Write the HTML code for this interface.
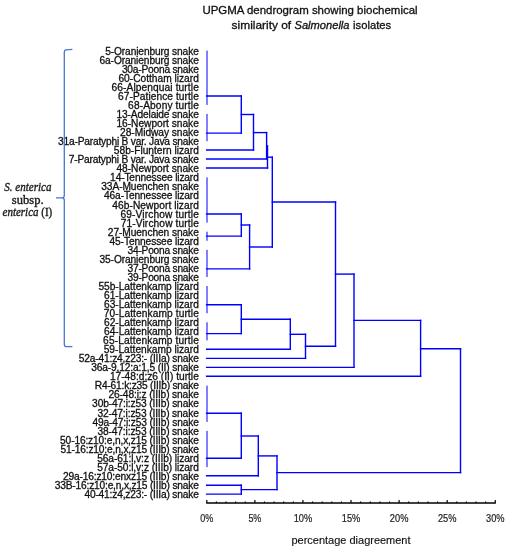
<!DOCTYPE html>
<html><head><meta charset="utf-8"><style>
html,body{margin:0;padding:0;background:#fff;}
svg{display:block;will-change:transform;}
text{font-family:"Liberation Sans",sans-serif;}
.serif text{font-family:"Liberation Serif",serif;}
</style></head><body>
<svg width="509" height="550" viewBox="0 0 509 550">
<defs><filter id="b" x="-5%" y="-5%" width="110%" height="110%"><feGaussianBlur stdDeviation="0.3"/></filter></defs>
<rect width="509" height="550" fill="#fff"/>
<g filter="url(#b)">

<text x="202.4" y="14" font-size="11" textLength="215.2" stroke="#111" stroke-width="0.3" lengthAdjust="spacingAndGlyphs" fill="#111">UPGMA dendrogram showing biochemical</text>
<text x="231.6" y="29" font-size="11" textLength="59.6" lengthAdjust="spacingAndGlyphs" fill="#111" stroke="#111" stroke-width="0.3">similarity of</text>
<text x="294.5" y="29" font-size="11" font-style="italic" textLength="55" lengthAdjust="spacingAndGlyphs" fill="#111" stroke="#111" stroke-width="0.3">Salmonella</text>
<text x="353.1" y="29" font-size="11" textLength="38" lengthAdjust="spacingAndGlyphs" fill="#111" stroke="#111" stroke-width="0.3">isolates</text>
<g font-size="10.2" fill="#111" stroke="#111" stroke-width="0.3">
<text x="105.2" y="54.80" textLength="93.6" lengthAdjust="spacing">5-Oranienburg snake</text>
<text x="99.5" y="63.84" textLength="99.3" lengthAdjust="spacing">6a-Oranienburg snake</text>
<text x="121.9" y="72.89" textLength="76.9" lengthAdjust="spacing">30a-Poona snake</text>
<text x="118.4" y="81.93" textLength="80.4" lengthAdjust="spacing">60-Cottham lizard</text>
<text x="111.5" y="90.97" textLength="87.3" lengthAdjust="spacing">66-Alpenquai turtle</text>
<text x="118.1" y="100.01" textLength="80.7" lengthAdjust="spacing">67-Patience turtle</text>
<text x="128.1" y="109.06" textLength="70.7" lengthAdjust="spacing">68-Abony turtle</text>
<text x="116.4" y="118.10" textLength="82.4" lengthAdjust="spacing">13-Adelaide snake</text>
<text x="116.4" y="127.14" textLength="82.4" lengthAdjust="spacing">16-Newport snake</text>
<text x="120.1" y="136.19" textLength="78.7" lengthAdjust="spacing">28-Midway snake</text>
<text x="58.1" y="145.23" textLength="140.7" lengthAdjust="spacing">31a-Paratyphi B var. Java snake</text>
<text x="113.8" y="154.27" textLength="85.0" lengthAdjust="spacing">58b-Fluntern lizard</text>
<text x="68.7" y="163.32" textLength="130.1" lengthAdjust="spacing">7-Paratyphi B var. Java snake</text>
<text x="116.4" y="172.36" textLength="82.4" lengthAdjust="spacing">48-Newport snake</text>
<text x="110.1" y="181.40" textLength="88.7" lengthAdjust="spacing">14-Tennessee lizard</text>
<text x="101.3" y="190.44" textLength="97.5" lengthAdjust="spacing">33A-Muenchen snake</text>
<text x="104.0" y="199.49" textLength="94.8" lengthAdjust="spacing">46a-Tennessee lizard</text>
<text x="112.3" y="208.53" textLength="86.5" lengthAdjust="spacing">46b-Newport lizard</text>
<text x="120.4" y="217.57" textLength="78.4" lengthAdjust="spacing">69-Virchow turtle</text>
<text x="120.7" y="226.62" textLength="78.1" lengthAdjust="spacing">71-Virchow turtle</text>
<text x="107.8" y="235.66" textLength="91.0" lengthAdjust="spacing">27-Muenchen snake</text>
<text x="109.5" y="244.70" textLength="89.3" lengthAdjust="spacing">45-Tennessee lizard</text>
<text x="127.5" y="253.75" textLength="71.3" lengthAdjust="spacing">34-Poona snake</text>
<text x="99.5" y="262.79" textLength="99.3" lengthAdjust="spacing">35-Oranienburg snake</text>
<text x="127.5" y="271.83" textLength="71.3" lengthAdjust="spacing">37-Poona snake</text>
<text x="127.5" y="280.88" textLength="71.3" lengthAdjust="spacing">39-Poona snake</text>
<text x="98.4" y="289.92" textLength="100.4" lengthAdjust="spacing">55b-Lattenkamp lizard</text>
<text x="104.0" y="298.96" textLength="94.8" lengthAdjust="spacing">61-Lattenkamp lizard</text>
<text x="104.0" y="308.00" textLength="94.8" lengthAdjust="spacing">63-Lattenkamp lizard</text>
<text x="103.7" y="317.05" textLength="95.1" lengthAdjust="spacing">70-Lattenkamp turtle</text>
<text x="104.0" y="326.09" textLength="94.8" lengthAdjust="spacing">62-Lattenkamp lizard</text>
<text x="104.0" y="335.13" textLength="94.8" lengthAdjust="spacing">64-Lattenkamp lizard</text>
<text x="103.1" y="344.18" textLength="95.7" lengthAdjust="spacing">65-Lattenkamp turtle</text>
<text x="103.7" y="353.22" textLength="95.1" lengthAdjust="spacing">59-Lattenkamp lizard</text>
<text x="78.8" y="362.26" textLength="120.0" lengthAdjust="spacing">52a-41:z4,z23:- (IIIa) snake</text>
<text x="91.3" y="371.31" textLength="107.5" lengthAdjust="spacing">36a-9,12:a:1,5 (II) snake</text>
<text x="109.9" y="380.35" textLength="88.9" lengthAdjust="spacing">17-48:d:z6 (II) turtle</text>
<text x="94.8" y="389.39" textLength="104.0" lengthAdjust="spacing">R4-61:k:z35 (IIIb) snake</text>
<text x="108.5" y="398.43" textLength="90.3" lengthAdjust="spacing">26-48:i:z (IIIb) snake</text>
<text x="92.1" y="407.48" textLength="106.7" lengthAdjust="spacing">30b-47:i:z53 (IIIb) snake</text>
<text x="97.4" y="416.52" textLength="101.4" lengthAdjust="spacing">32-47:i:z53 (IIIb) snake</text>
<text x="92.4" y="425.56" textLength="106.4" lengthAdjust="spacing">49a-47:i:z53 (IIIb) snake</text>
<text x="97.4" y="434.61" textLength="101.4" lengthAdjust="spacing">38-47:i:z53 (IIIb) snake</text>
<text x="60.1" y="443.65" textLength="138.7" lengthAdjust="spacing">50-16:z10:e,n,x,z15 (IIIb) snake</text>
<text x="60.5" y="452.69" textLength="138.3" lengthAdjust="spacing">51-16:z10:e,n,x,z15 (IIIb) snake</text>
<text x="97.2" y="461.73" textLength="101.6" lengthAdjust="spacing">56a-61:l,v:z (IIIb) lizard</text>
<text x="97.2" y="470.78" textLength="101.6" lengthAdjust="spacing">57a-50:l,v:z (IIIb) lizard</text>
<text x="63.0" y="479.82" textLength="135.8" lengthAdjust="spacing">29a-16:z10:enxz15 (IIIb) snake</text>
<text x="54.8" y="488.86" textLength="144.0" lengthAdjust="spacing">33B-16:z10:e,n,x,z15 (IIIb) snake</text>
<text x="84.4" y="497.91" textLength="114.4" lengthAdjust="spacing">40-41:z4,z23:- (IIIa) snake</text>
</g>
<g stroke="#0000ff" stroke-width="1.0" fill="none">
<line x1="207.0" y1="50.60" x2="207.0" y2="104.93"/>
<line x1="207.0" y1="113.98" x2="207.0" y2="141.15"/>
<line x1="207.0" y1="177.37" x2="207.0" y2="222.64"/>
<line x1="207.0" y1="231.70" x2="207.0" y2="240.75"/>
<line x1="207.0" y1="249.81" x2="207.0" y2="276.98"/>
<line x1="207.0" y1="286.03" x2="207.0" y2="313.19"/>
<line x1="207.0" y1="322.25" x2="207.0" y2="340.36"/>
<line x1="207.0" y1="385.63" x2="207.0" y2="421.86"/>
<line x1="207.0" y1="430.91" x2="207.0" y2="467.13"/>
</g>
<g stroke="#0000ff" stroke-width="1.4" fill="none" stroke-linecap="square">
<line x1="206.6" y1="96.00" x2="241.3" y2="96.00"/>
<line x1="206.6" y1="133.10" x2="241.3" y2="133.10"/>
<line x1="241.3" y1="96.00" x2="241.3" y2="133.10"/>
<line x1="241.3" y1="114.50" x2="253.5" y2="114.50"/>
<line x1="206.6" y1="150.00" x2="253.5" y2="150.00"/>
<line x1="253.5" y1="114.50" x2="253.5" y2="150.00"/>
<line x1="253.5" y1="132.60" x2="266.6" y2="132.60"/>
<line x1="206.6" y1="159.00" x2="266.6" y2="159.00"/>
<line x1="266.6" y1="132.60" x2="266.6" y2="159.00"/>
<line x1="206.6" y1="168.00" x2="267.5" y2="168.00"/>
<line x1="267.5" y1="145.80" x2="267.5" y2="168.00"/>
<line x1="267.5" y1="157.20" x2="272.3" y2="157.20"/>
<line x1="206.6" y1="214.00" x2="241.3" y2="214.00"/>
<line x1="206.6" y1="236.10" x2="241.3" y2="236.10"/>
<line x1="241.3" y1="214.00" x2="241.3" y2="236.10"/>
<line x1="241.3" y1="225.00" x2="249.6" y2="225.00"/>
<line x1="206.6" y1="268.90" x2="249.6" y2="268.90"/>
<line x1="249.6" y1="225.00" x2="249.6" y2="268.90"/>
<line x1="249.6" y1="247.00" x2="272.3" y2="247.00"/>
<line x1="272.3" y1="157.20" x2="272.3" y2="247.00"/>
<line x1="272.3" y1="202.00" x2="335.5" y2="202.00"/>
<line x1="206.6" y1="304.80" x2="241.3" y2="304.80"/>
<line x1="206.6" y1="333.60" x2="241.3" y2="333.60"/>
<line x1="241.3" y1="304.80" x2="241.3" y2="333.60"/>
<line x1="241.3" y1="319.20" x2="290.3" y2="319.20"/>
<line x1="206.6" y1="349.20" x2="290.3" y2="349.20"/>
<line x1="290.3" y1="319.20" x2="290.3" y2="349.20"/>
<line x1="290.3" y1="334.30" x2="305.5" y2="334.30"/>
<line x1="206.6" y1="358.40" x2="305.5" y2="358.40"/>
<line x1="305.5" y1="334.30" x2="305.5" y2="358.40"/>
<line x1="305.5" y1="346.30" x2="335.5" y2="346.30"/>
<line x1="335.5" y1="202.00" x2="335.5" y2="346.30"/>
<line x1="335.5" y1="274.10" x2="354.0" y2="274.10"/>
<line x1="206.6" y1="367.40" x2="354.0" y2="367.40"/>
<line x1="354.0" y1="274.10" x2="354.0" y2="367.40"/>
<line x1="354.0" y1="320.40" x2="420.6" y2="320.40"/>
<line x1="206.6" y1="376.30" x2="420.6" y2="376.30"/>
<line x1="420.6" y1="320.40" x2="420.6" y2="376.30"/>
<line x1="420.6" y1="348.70" x2="460.5" y2="348.70"/>
<line x1="206.6" y1="413.20" x2="241.3" y2="413.20"/>
<line x1="206.6" y1="458.20" x2="241.3" y2="458.20"/>
<line x1="241.3" y1="413.20" x2="241.3" y2="458.20"/>
<line x1="241.3" y1="436.00" x2="258.3" y2="436.00"/>
<line x1="206.6" y1="475.80" x2="258.3" y2="475.80"/>
<line x1="258.3" y1="436.00" x2="258.3" y2="475.80"/>
<line x1="258.3" y1="455.90" x2="277.0" y2="455.90"/>
<line x1="206.6" y1="485.20" x2="241.3" y2="485.20"/>
<line x1="206.6" y1="494.10" x2="241.3" y2="494.10"/>
<line x1="241.3" y1="485.20" x2="241.3" y2="494.10"/>
<line x1="241.3" y1="489.60" x2="277.0" y2="489.60"/>
<line x1="277.0" y1="455.90" x2="277.0" y2="489.60"/>
<line x1="277.0" y1="472.60" x2="460.5" y2="472.60"/>
<line x1="460.5" y1="348.70" x2="460.5" y2="472.60"/>
</g>
<g stroke="#000" stroke-width="1.2" fill="none">
<line x1="206.20000000000002" y1="503" x2="495.85" y2="503" stroke-width="1.5"/>
<line x1="206.80" y1="500" x2="206.80" y2="503"/>
<line x1="216.42" y1="501.5" x2="216.42" y2="503"/>
<line x1="226.03" y1="501.5" x2="226.03" y2="503"/>
<line x1="235.65" y1="501.5" x2="235.65" y2="503"/>
<line x1="245.26" y1="501.5" x2="245.26" y2="503"/>
<line x1="254.88" y1="500" x2="254.88" y2="503"/>
<line x1="264.49" y1="501.5" x2="264.49" y2="503"/>
<line x1="274.11" y1="501.5" x2="274.11" y2="503"/>
<line x1="283.72" y1="501.5" x2="283.72" y2="503"/>
<line x1="293.34" y1="501.5" x2="293.34" y2="503"/>
<line x1="302.95" y1="500" x2="302.95" y2="503"/>
<line x1="312.56" y1="501.5" x2="312.56" y2="503"/>
<line x1="322.18" y1="501.5" x2="322.18" y2="503"/>
<line x1="331.80" y1="501.5" x2="331.80" y2="503"/>
<line x1="341.41" y1="501.5" x2="341.41" y2="503"/>
<line x1="351.02" y1="500" x2="351.02" y2="503"/>
<line x1="360.64" y1="501.5" x2="360.64" y2="503"/>
<line x1="370.25" y1="501.5" x2="370.25" y2="503"/>
<line x1="379.87" y1="501.5" x2="379.87" y2="503"/>
<line x1="389.49" y1="501.5" x2="389.49" y2="503"/>
<line x1="399.10" y1="500" x2="399.10" y2="503"/>
<line x1="408.72" y1="501.5" x2="408.72" y2="503"/>
<line x1="418.33" y1="501.5" x2="418.33" y2="503"/>
<line x1="427.95" y1="501.5" x2="427.95" y2="503"/>
<line x1="437.56" y1="501.5" x2="437.56" y2="503"/>
<line x1="447.18" y1="500" x2="447.18" y2="503"/>
<line x1="456.79" y1="501.5" x2="456.79" y2="503"/>
<line x1="466.41" y1="501.5" x2="466.41" y2="503"/>
<line x1="476.02" y1="501.5" x2="476.02" y2="503"/>
<line x1="485.63" y1="501.5" x2="485.63" y2="503"/>
<line x1="495.25" y1="500" x2="495.25" y2="503"/>
</g>
<g font-size="10.5" fill="#222" stroke="#222" stroke-width="0.2" text-anchor="middle">
<text x="200.30" y="521.8" textLength="13" lengthAdjust="spacingAndGlyphs" text-anchor="start">0%</text>
<text x="248.38" y="521.8" textLength="13" lengthAdjust="spacingAndGlyphs" text-anchor="start">5%</text>
<text x="293.70" y="521.8" textLength="18.5" lengthAdjust="spacingAndGlyphs" text-anchor="start">10%</text>
<text x="341.77" y="521.8" textLength="18.5" lengthAdjust="spacingAndGlyphs" text-anchor="start">15%</text>
<text x="389.85" y="521.8" textLength="18.5" lengthAdjust="spacingAndGlyphs" text-anchor="start">20%</text>
<text x="437.93" y="521.8" textLength="18.5" lengthAdjust="spacingAndGlyphs" text-anchor="start">25%</text>
<text x="486.00" y="521.8" textLength="18.5" lengthAdjust="spacingAndGlyphs" text-anchor="start">30%</text>
</g>
<text x="291.5" y="543.7" font-size="11" textLength="119" lengthAdjust="spacingAndGlyphs" fill="#111" stroke="#111" stroke-width="0.15">percentage diagreement</text>
<path d="M72.4 49.4 L66 49.8 Q64.3 50 64.3 52 L64.3 195.5 Q64.3 197.8 62 197.8 L56 197.8 M62 197.8 Q64.3 197.8 64.3 200 L64.3 344.5 Q64.3 346.4 66 346.5 L72.4 346.7" stroke="#4a74d0" stroke-width="1.3" fill="none"/>
<g class="serif" font-size="11.6" fill="#1a1a1a" stroke="#1a1a1a" stroke-width="0.35">
<text x="4.3" y="190.6" font-style="italic" textLength="47.2" lengthAdjust="spacingAndGlyphs">S. enterica</text>
<text x="11.8" y="203.6" textLength="31.8" lengthAdjust="spacingAndGlyphs">subsp.</text>
<text x="2.5" y="216.0" textLength="49.8" lengthAdjust="spacingAndGlyphs"><tspan font-style="italic">enterica</tspan> (I)</text>
</g>
</g></svg>
</body></html>
